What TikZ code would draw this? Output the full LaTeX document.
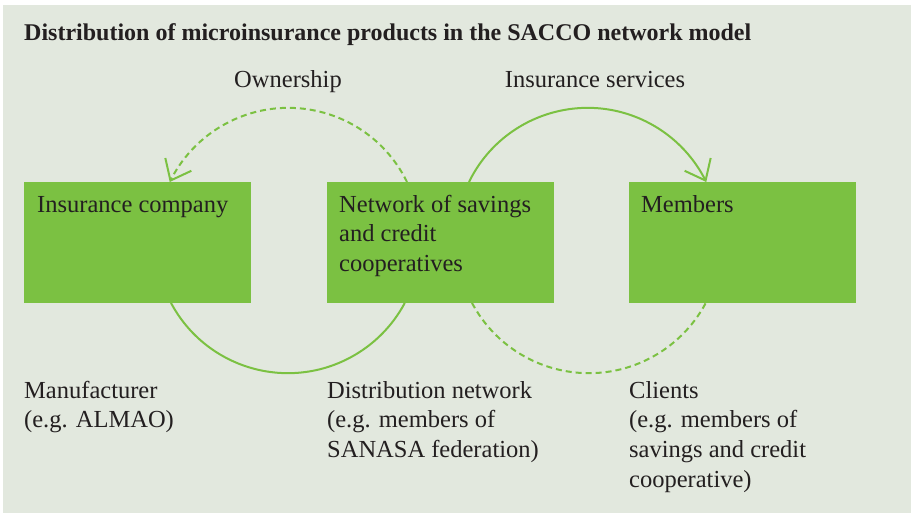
\documentclass[tikz,border=0pt]{standalone}
\usepackage{fontspec}
\setmainfont{Liberation Serif}
\usetikzlibrary{arrows.meta,bending}
\definecolor{bgc}{HTML}{E2E8DE}
\definecolor{grn}{HTML}{7BC142}
\definecolor{txt}{HTML}{231F20}
\begin{document}
\begin{tikzpicture}[x=1pt,y=1pt,
  box/.style={fill=grn,draw=none,minimum width=227pt,minimum height=120.5pt,anchor=north west,inner sep=0pt},
  lbl/.style={anchor=base west,inner sep=0pt,align=left,text=txt,font=\fontsize{24.5}{29.7}\selectfont},
  toplbl/.style={anchor=base,inner sep=0pt,text=txt,font=\fontsize{24.5}{29.7}\selectfont},
  conn/.style={draw=grn,line width=2pt},
  dashconn/.style={conn,dash pattern=on 6pt off 4pt},
  tip/.style={-{Straight Barb[length=18pt,width=29pt,line width=2pt,flex]}}
]
\useasboundingbox (0,0) rectangle (911,-515);
\fill[bgc] (3,-5) rectangle (911,-513);
\node[anchor=base west,inner sep=0pt,text=txt,font=\fontsize{24}{28}\selectfont\bfseries] (title) at (24,-40)
  {Distribution of microinsurance products in the SACCO network model};

\node[box] (b1) at (24,-182) {};
\node[box] (b2) at (327,-182) {};
\node[box] (b3) at (629,-182) {};

% base anchor = baseline of the last line
\node[lbl] (t1) at ([xshift=13pt,yshift=-30pt]b1.north west) {Insurance company};
\node[lbl] (t2) at ([xshift=12pt,yshift=-89.4pt]b2.north west) {Network of savings\\and credit\\cooperatives};
\node[lbl] (t3) at ([xshift=12pt,yshift=-30pt]b3.north west) {Members};

\node[toplbl] (own) at (288,-87) {Ownership};
\node[toplbl] (ins) at (595,-87) {Insurance services};

\node[lbl] (d1) at (24,-427.7) {Manufacturer\\(e.g. ALMAO)};
\node[lbl] (d2) at (327,-457.4) {Distribution network\\(e.g. members of\\SANASA federation)};
\node[lbl] (d3) at (629,-487.1) {Clients\\(e.g. members of\\savings and credit\\cooperative)};

% circle 1 (centre 288,-240)
\draw[dashconn,tip] ([xshift=80pt]b2.north west) arc[start angle=26,end angle=154,radius=132];
\draw[conn] ([xshift=147pt]b1.south west) arc[start angle=208,end angle=332,radius=132.4];
% circle 2 (centre 588.5,-240)
\draw[conn,tip] ([xshift=142pt]b2.north west) arc[start angle=154,end angle=26,radius=132];
\draw[dashconn] ([xshift=145pt]b2.south west) arc[start angle=208,end angle=332,radius=132.4];
\end{tikzpicture}
\end{document}
